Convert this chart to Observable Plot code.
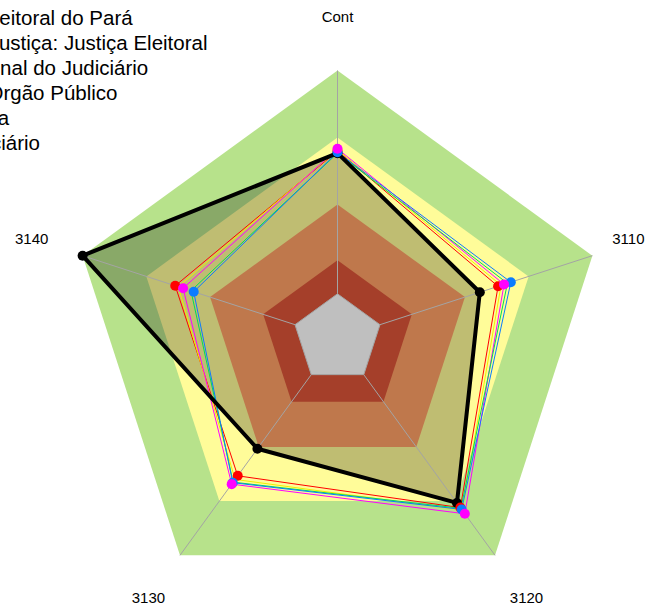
<!DOCTYPE html>
<html>
<head>
<meta charset="utf-8">
<script src="https://cdn.jsdelivr.net/npm/d3@7"></script>
<script src="https://cdn.jsdelivr.net/npm/@observablehq/plot@0.6"></script>
<style>
  html, body { margin: 0; padding: 0; background: #ffffff; }
  #chart { width: 664px; height: 610px; overflow: hidden; }
</style>
</head>
<body>
<div id="chart"></div>
<script>
// ---------- data ----------
const axes = ["Cont", "3110", "3120", "3130", "3140"];

// band upper limits (value scale runs from -20 at the centre to 100 at the rim)
const bandLimits = [100, 70, 40, 15, 0];
const bandColors = ["#b7e28b", "#fffc99", "#ffa066", "#dc5538", "#ffffff"];

const seriesNames = [
  "Tribunal Regional Eleitoral do Pará",
  "Média do Setor de Justiça: Justiça Eleitoral",
  "Esfera: Média Nacional do Judiciário",
  "Natureza Jurídica: Órgão Público",
  "Todo o Brasil: Justiça",
  "Total do Poder Judiciário"
];
const seriesColors = ["#000000", "#ff0000", "#f0f000", "#ff00ff", "#00e050", "#0a7cff"];
const seriesPoints = [true, true, false, true, false, true];

const valuesTRE      = [63, 47, 71, 41, 100];
const valuesSetor    = [64, 55.6, 73.6, 56, 56.4];
const valuesNacional = [64.5, 57, 75, 58, 55];
const valuesOrgao    = [65, 58.4, 77, 60.6, 52.7];
const valuesBrasil   = [63, 60, 74, 59.5, 49];
const valuesPoder    = [63.4, 61.6, 74.6, 59.8, 47.7];
const seriesValues = [valuesTRE, valuesSetor, valuesNacional, valuesOrgao, valuesBrasil, valuesPoder];

const vMin = -20, vMax = 100, labelValue = 124;

// ---------- geometry helpers ----------
const frac = v => (v - vMin) / (vMax - vMin);
const ang = i => 2 * Math.PI * i / axes.length;
const pt = (v, i, extra = {}) => ({x: frac(v) * Math.sin(ang(i)), y: frac(v) * Math.cos(ang(i)), ...extra});
const ring = (vals, extra = {}) => {
  const p = vals.map((v, i) => pt(v, i, extra));
  return [...p, p[0]];
};

const R = 268, W = 664, H = 610, CX = 337, CY = 338;

const marks = [];
// bands
bandLimits.forEach((lim, k) => {
  marks.push(Plot.line(ring(axes.map(() => lim)), {x: "x", y: "y", fill: bandColors[k], stroke: "none"}));
});
// translucent fill of the organisation polygon
marks.push(Plot.line(ring(valuesTRE), {x: "x", y: "y", fill: "#000000", fillOpacity: 0.25, stroke: "none"}));
// spokes
const spokes = axes.map((a, i) => ({a, p0: pt(0, i), p1: pt(vMax, i)}));
marks.push(Plot.link(spokes, {x1: d => d.p0.x, y1: d => d.p0.y, x2: d => d.p1.x, y2: d => d.p1.y, stroke: "#a4a4a4", strokeWidth: 1}));
marks.push(Plot.line(ring(axes.map(() => 0)), {x: "x", y: "y", stroke: "#a4a4a4", strokeWidth: 1}));
// comparison series lines
[1, 2, 3, 4, 5].forEach(s => {
  marks.push(Plot.line(ring(seriesValues[s]), {x: "x", y: "y", stroke: seriesColors[s], strokeWidth: 1}));
});
// organisation line
marks.push(Plot.line(ring(valuesTRE), {x: "x", y: "y", stroke: "#000000", strokeWidth: 4, strokeLinejoin: "miter"}));
// points
[0, 1, 5, 3].forEach(s => {
  if (!seriesPoints[s]) return;
  marks.push(Plot.dot(seriesValues[s].map((v, i) => pt(v, i)), {x: "x", y: "y", r: 5, fill: seriesColors[s], stroke: "none"}));
});
// axis labels
const labelShift = {"3110": -15};
marks.push(Plot.text(axes.map((a, i) => pt(labelValue, i, {a})), {
  x: "x", y: "y", text: "a", fontSize: 15, fill: "#000000",
  textAnchor: "middle", lineAnchor: "middle"
}));
// legend (left part falls outside the drawing)
marks.push(Plot.text([seriesNames.join("\n")], {
  frameAnchor: "top-left", text: d => d, textAnchor: "start", lineAnchor: "top",
  dx: -185, dy: 7, fontSize: 20.5, lineHeight: 1.22, fill: "#000000"
}));

const chart = Plot.plot({
  width: W, height: H, margin: 0,
  x: {domain: [-CX / R, (W - CX) / R], axis: null},
  y: {domain: [-(H - CY) / R, CY / R], axis: null},
  style: {fontFamily: "'Liberation Sans', Arial, sans-serif", background: "#ffffff", overflow: "hidden"},
  marks
});
document.getElementById("chart").appendChild(chart);

// nudge the 3110 label as in the original layout
d3.select(chart).selectAll("text").filter(function() { return this.textContent === "3110"; })
  .attr("transform", function() { return (this.getAttribute("transform") || "") + ` translate(${labelShift["3110"]},0)`; });
</script>
</body>
</html>
